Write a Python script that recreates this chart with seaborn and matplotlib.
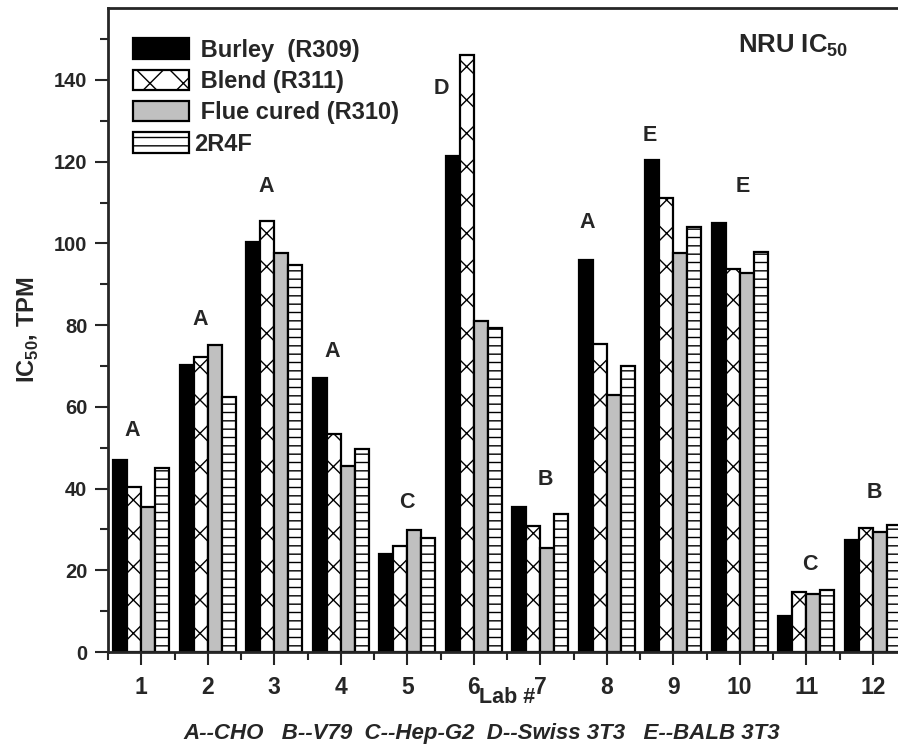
import numpy as np
import pandas as pd
import seaborn as sns
import matplotlib.pyplot as plt
from matplotlib.ticker import MultipleLocator

# data
labs = ['1', '2', '3', '4', '5', '6', '7', '8', '9', '10', '11', '12']
burley = [47.1, 70.3, 100.4, 67.1, 24.0, 121.3, 35.5, 95.9, 120.4, 105.0, 8.9, 27.5]
blend = [40.3, 72.3, 105.4, 53.4, 26.0, 146.1, 30.8, 75.3, 111.0, 93.8, 14.6, 30.4]
flue = [35.6, 75.2, 97.6, 45.4, 29.8, 80.9, 25.5, 63.0, 97.7, 92.8, 14.1, 29.3]
r4f = [45.1, 62.3, 94.7, 49.8, 27.9, 79.3, 33.7, 70.1, 103.9, 97.8, 15.1, 31.2]
series = [' Burley  (R309)', ' Blend (R311)', ' Flue cured (R310)', '2R4F']

# cell line letter above each lab
cell_line = ['A', 'A', 'A', 'A', 'C', 'D', 'B', 'A', 'E', 'E', 'C', 'B']
letter_x = [0.87, 1.88, 2.88, 3.875, 4.99, 5.51, 7.07, 7.71, 8.64, 10.04, 11.05, 12.02]
letter_y = [54.2, 81.4, 114, 73.5, 36.7, 138, 42.3, 105, 126.5, 114, 21.5, 39.1]

df = pd.DataFrame({
    'lab': labs * 4,
    'value': burley + blend + flue + r4f,
    'sample': [s for s in series for _ in labs],
})

sns.set_theme(style='ticks')
plt.rcParams['font.family'] = ['Liberation Sans', 'DejaVu Sans']
plt.rcParams['mathtext.fontset'] = 'custom'
plt.rcParams['mathtext.rm'] = 'Liberation Sans:bold'
plt.rcParams['mathtext.bf'] = 'Liberation Sans:bold'
plt.rcParams['hatch.linewidth'] = 1.0

fig = plt.figure(figsize=(8.98, 7.46), dpi=100)
ax = fig.add_axes([108 / 898, 94 / 746, 798 / 898, 644 / 746])

sns.barplot(data=df, x='lab', y='value', hue='sample', hue_order=series,
            palette=['black', 'white', '#c0c0c0', 'white'], saturation=1,
            width=0.84, gap=0, edgecolor='black', linewidth=1.6,
            legend=False, ax=ax)

hatches = ['', 'x', '', '--']
for cont, h in zip(ax.containers, hatches):
    for p in cont:
        p.set_hatch(h)

ax.set_xlim(-0.5, 11.5)
ax.set_ylim(0, 157.6)
ax.set_xticks(range(12))
ax.set_xticklabels(labs)
ax.set_xticks(np.arange(-0.5, 12, 1), minor=True)
ax.set_yticks(range(0, 141, 20))
ax.yaxis.set_minor_locator(MultipleLocator(10))
ax.tick_params(which='major', length=9.4, width=1.5, direction='out')
ax.tick_params(which='minor', length=5.5, width=1.5, direction='out')
ax.tick_params(axis='y', labelsize=14.5, pad=5.5)
ax.tick_params(axis='x', labelsize=16.5, pad=8)
for lbl in ax.get_yticklabels() + ax.get_xticklabels():
    lbl.set_fontweight('bold')
for sp in ax.spines.values():
    sp.set_linewidth(2)

ax.set_xlabel('Lab #', fontsize=15.5, fontweight='bold', labelpad=-9)
ax.set_ylabel(r'IC$_{\mathbf{50}}$, TPM', fontsize=17, fontweight='bold', labelpad=9)

for x, y, t in zip(letter_x, letter_y, cell_line):
    ax.text(x - 1, y, t, ha='center', va='center', fontsize=15.5, fontweight='bold')

ax.text(9.98 - 1, 146.8, r'NRU IC$_{\mathbf{50}}$', ha='left', va='baseline',
        fontsize=18.5, fontweight='bold')

ax.legend(handles=ax.containers, labels=series, loc='upper left',
          bbox_to_anchor=(0.0313, 0.953), frameon=False, borderpad=0,
          borderaxespad=0, handlelength=2.37, handleheight=0.95,
          labelspacing=0.34, handletextpad=0.2,
          prop={'weight': 'bold', 'size': 17})

fig.text(482 / 898, 1 - 733 / 746, 'A--CHO   B--V79  C--Hep-G2  D--Swiss 3T3   E--BALB 3T3',
         ha='center', va='center', fontsize=16, fontweight='bold', style='italic')

fig.savefig('out.png', dpi=100)
